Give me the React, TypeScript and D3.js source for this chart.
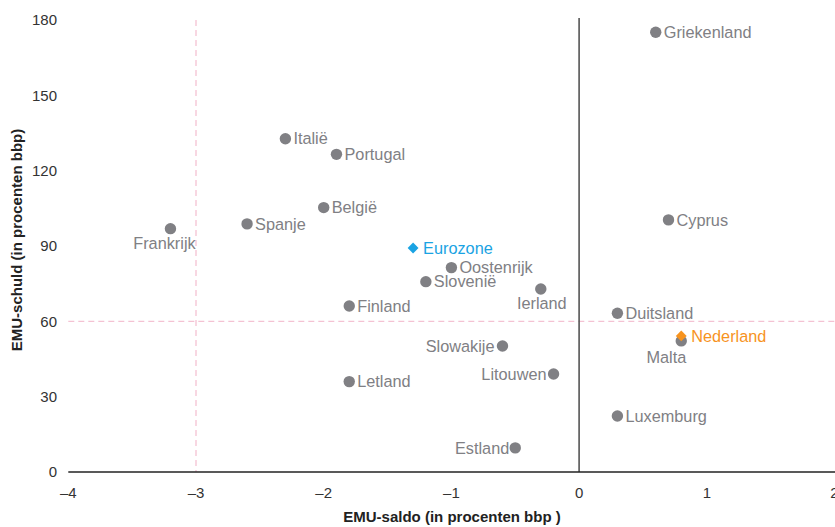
import React from "react";
import * as d3 from "d3";

const countries = ["Griekenland","Italië","Portugal","België","Spanje","Frankrijk","Oostenrijk","Slovenië","Ierland","Finland","Cyprus","Duitsland","Malta","Slowakije","Litouwen","Letland","Luxemburg","Estland"];
const saldo = [0.6,-2.3,-1.9,-2.0,-2.6,-3.2,-1.0,-1.2,-0.3,-1.8,0.7,0.3,0.8,-0.6,-0.2,-1.8,0.3,-0.5];
const schuld = [175.1,132.7,126.5,105.3,98.8,96.9,81.4,75.8,72.9,66.1,100.4,63.2,52.2,50.2,39.0,36.0,22.3,9.6];

const highlights = ["Eurozone","Nederland"];
const highlightSaldo = [-1.3,0.8];
const highlightSchuld = [89.2,54.2];

const xTicks = [-4,-3,-2,-1,0,1,2];
const yTicks = [0,30,60,90,120,150,180];
const xTickLabels = ["\u20134","\u20133","\u20132","\u20131","0","1","2"];
const refX = -3;
const refY = 60;

// label placement (style): dx, dy, anchor
const placement: Record<string, [number, number, string]> = {
  Frankrijk: [-6, 15, "middle"],
  Ierland: [1, 14, "middle"],
  Malta: [5, 16, "end"],
  Slowakije: [-8, 0, "end"],
  Litouwen: [-7, 0, "end"],
  Estland: [-6, 0, "end"],
};

const W = 835, H = 527;
const FONT = "'Liberation Sans', Arial, Helvetica, sans-serif";
const GRAY = "#808084";
const BLUE = "#1aa3e3";
const ORANGE = "#f7931e";
const PINK = "#f4c2d3";

export default function App() {
  const x = d3.scaleLinear().domain([-4, 2]).range([68.3, 834.5]);
  const y = d3.scaleLinear().domain([0, 180]).range([472, 20]);
  const diamond = d3.symbol().type(d3.symbolDiamond2).size(75)() as string;

  return (
    <div style={{ position: "fixed", left: 0, top: 0 }}>
      <svg width={W} height={H} style={{ display: "block", background: "#fff" }} fontFamily={FONT}>
        {/* reference lines */}
        <line x1={x(refX)} x2={x(refX)} y1={y(180)} y2={y(0)} stroke={PINK} strokeWidth={1.3} strokeDasharray="6,4" />
        <line x1={x(-4)} x2={W} y1={y(refY)} y2={y(refY)} stroke={PINK} strokeWidth={1.3} strokeDasharray="6,4" />
        {/* zero line */}
        <line x1={x(0)} x2={x(0)} y1={18} y2={y(0)} stroke="#555" strokeWidth={1.6} />
        {/* x axis */}
        <line x1={x(-4)} x2={W} y1={y(0)} y2={y(0)} stroke="#222" strokeWidth={1.4} />
        {xTicks.map((t, i) => (
          <text key={"xt" + t} x={x(t)} y={498} textAnchor="middle" fontSize={15} fill="#333">{xTickLabels[i]}</text>
        ))}
        {yTicks.map((t) => (
          <text key={"yt" + t} x={57} y={y(t)} dy="0.35em" textAnchor="end" fontSize={15} fill="#333">{t}</text>
        ))}
        <text x={452} y={522} textAnchor="middle" fontSize={15} fontWeight="bold" fill="#222">EMU-saldo (in procenten bbp )</text>
        <text transform={`translate(22,240) rotate(-90)`} textAnchor="middle" fontSize={15} fontWeight="bold" fill="#222">EMU-schuld (in procenten bbp)</text>

        {/* country points */}
        {countries.map((c, i) => {
          const cx = x(saldo[i]);
          const cy = y(schuld[i]);
          const p = placement[c] || [8, 0, "start"];
          return (
            <g key={c}>
              <circle cx={cx} cy={cy} r={5.7} fill={GRAY} />
              <text x={cx + p[0]} y={cy + p[1]} dy="0.35em" textAnchor={p[2] as any} fontSize={16.3} fill={GRAY}>{c}</text>
            </g>
          );
        })}
        {/* highlights */}
        {highlights.map((h, i) => {
          const cx = x(highlightSaldo[i]);
          const cy = y(highlightSchuld[i]);
          const col = i === 0 ? BLUE : ORANGE;
          return (
            <g key={h}>
              <path d={diamond} transform={`translate(${cx},${cy})`} fill={col} />
              <text x={cx + 10} y={cy} dy="0.35em" fontSize={16.3} fill={col}>{h}</text>
            </g>
          );
        })}
      </svg>
    </div>
  );
}
